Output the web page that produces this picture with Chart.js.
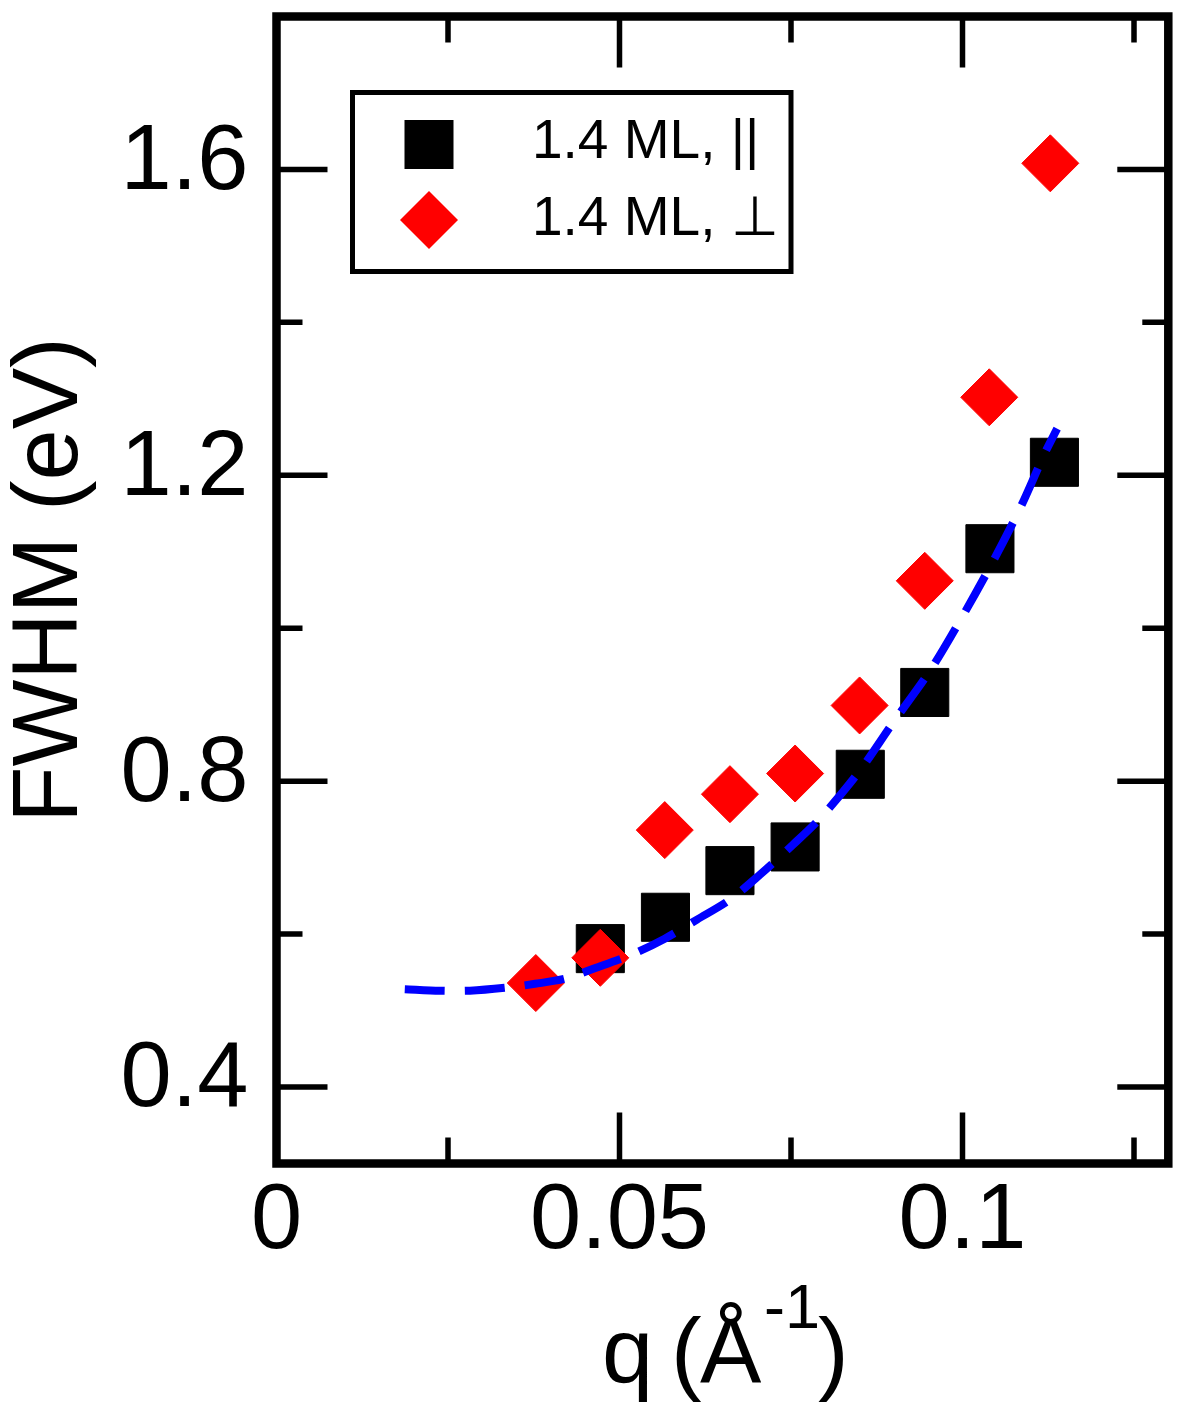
<!DOCTYPE html>
<html>
<head>
<meta charset="utf-8">
<title>FWHM vs q</title>
<script src="https://cdn.jsdelivr.net/npm/chart.js@4.4.1/dist/chart.umd.min.js"></script>
<style>
  body { margin: 0; background: #fff; }
  #myChart { display: block; }
</style>
</head>
<body>
<canvas id="myChart" width="1188" height="1406"></canvas>
<script>
// data
var qPar = [0.0472, 0.0567, 0.0661, 0.0756, 0.0851, 0.0945, 0.1040, 0.1134];
var fwhmPar = [0.581, 0.622, 0.683, 0.714, 0.809, 0.916, 1.104, 1.217];

var qPerp = [0.0378, 0.0472, 0.0566, 0.0661, 0.0756, 0.0850, 0.0945, 0.1039, 0.1128];
var fwhmPerp = [0.536, 0.569, 0.736, 0.783, 0.810, 0.899, 1.062, 1.302, 1.608];

// dashed fit line
var qFit = [0.0187, 0.0238, 0.0282, 0.0335, 0.0377, 0.0422, 0.0472, 0.0515, 0.0566, 0.0613,
            0.0661, 0.0705, 0.0753, 0.0792, 0.0848, 0.0899, 0.0953, 0.0999, 0.1043, 0.1084, 0.1120, 0.1138];
var fwhmFit = [0.528, 0.526, 0.526, 0.530, 0.535, 0.542, 0.558, 0.572, 0.594, 0.619,
               0.645, 0.678, 0.717, 0.751, 0.811, 0.877, 0.945, 1.014, 1.085, 1.157, 1.229, 1.261];

var labelPar = '1.4 ML, ||';
var labelPerp = '1.4 ML, \u22A5';

// ticks
var xTicks = [0, 0.05, 0.1];
var xMinor = [0.025, 0.075, 0.125];
var yTicks = [0.4, 0.8, 1.2, 1.6];
var yMinor = [0.6, 1.0, 1.4];

var FONT = "'Liberation Sans', Arial, Helvetica, sans-serif";

function pts(xs, ys) {
  return xs.map(function (x, i) { return { x: x, y: ys[i] }; });
}

// frame, inward ticks, legend box, axis titles
var framePlugin = {
  id: 'frame',
  afterDraw: function (chart) {
    var ctx = chart.ctx;
    var a = chart.chartArea;
    var xs = chart.scales.x, ys = chart.scales.y;
    ctx.save();
    ctx.strokeStyle = '#000';
    ctx.lineCap = 'butt';

    // ticks on all four sides
    ctx.lineWidth = 5.5;
    function xt(v, len) {
      var p = xs.getPixelForValue(v);
      ctx.beginPath();
      ctx.moveTo(p, a.bottom); ctx.lineTo(p, a.bottom - len);
      ctx.moveTo(p, a.top); ctx.lineTo(p, a.top + len);
      ctx.stroke();
    }
    function yt(v, len) {
      var p = ys.getPixelForValue(v);
      ctx.beginPath();
      ctx.moveTo(a.left, p); ctx.lineTo(a.left + len, p);
      ctx.moveTo(a.right, p); ctx.lineTo(a.right - len, p);
      ctx.stroke();
    }
    xTicks.forEach(function (v) { if (v > xs.min && v < xs.max) xt(v, 51); });
    xMinor.forEach(function (v) { xt(v, 26); });
    yTicks.forEach(function (v) { yt(v, 51); });
    yMinor.forEach(function (v) { yt(v, 26); });

    // frame
    ctx.lineWidth = 8.5;
    ctx.lineJoin = 'miter';
    ctx.strokeRect(a.left, a.top, a.right - a.left, a.bottom - a.top);

    // legend
    ctx.lineWidth = 5;
    ctx.fillStyle = '#fff';
    ctx.fillRect(352.5, 92.5, 438.5, 179);
    ctx.strokeRect(352.5, 92.5, 438.5, 179);
    ctx.fillStyle = '#000';
    ctx.fillRect(429 - 24.5, 144.5 - 24.5, 49, 49);
    ctx.fillStyle = '#ff0000';
    ctx.beginPath();
    ctx.moveTo(429 - 29, 220); ctx.lineTo(429, 220 - 29);
    ctx.lineTo(429 + 29, 220); ctx.lineTo(429, 220 + 29);
    ctx.closePath(); ctx.fill();
    ctx.fillStyle = '#000';
    ctx.font = '55px ' + FONT;
    ctx.textAlign = 'left';
    ctx.textBaseline = 'alphabetic';
    ctx.fillText(labelPar, 532, 158);
    ctx.fillText(labelPerp, 532, 235);

    // y title
    ctx.save();
    ctx.translate(77, 580);
    ctx.rotate(-Math.PI / 2);
    ctx.font = '92px ' + FONT;
    ctx.textAlign = 'center';
    ctx.fillText('FWHM (eV)', 0, 0);
    ctx.restore();

    // x title with superscript
    ctx.font = '92px ' + FONT;
    ctx.fillText('q', 602, 1383);
    ctx.fillText('(', 671, 1383);
    ctx.fillText('\u00C5', 700, 1383);
    ctx.font = '63px ' + FONT;
    ctx.fillText('-1', 764, 1328);
    ctx.font = '92px ' + FONT;
    ctx.fillText(')', 818, 1383);
    ctx.restore();
  }
};

var ctx = document.getElementById('myChart').getContext('2d');
var myChart = new Chart(ctx, {
  type: 'scatter',
  data: {
    datasets: [
      {
        label: 'fit',
        data: pts(qFit, fwhmFit),
        showLine: true,
        borderColor: '#0000ff',
        borderWidth: 8,
        borderDash: [40, 20],
        tension: 0.3,
        pointRadius: 0,
        fill: false,
        order: 0
      },
      {
        label: labelPerp,
        data: pts(qPerp, fwhmPerp),
        pointStyle: 'rectRot',
        pointRadius: 28.5,
        backgroundColor: '#ff0000',
        borderColor: '#ff0000',
        borderWidth: 1,
        order: 1
      },
      {
        label: labelPar,
        data: pts(qPar, fwhmPar),
        pointStyle: 'rect',
        pointRadius: 34,
        backgroundColor: '#000000',
        borderColor: '#000000',
        borderWidth: 1,
        order: 2
      }
    ]
  },
  options: {
    responsive: false,
    animation: false,
    layout: { autoPadding: false, padding: { top: 16.5, right: 19.7, left: 0, bottom: 0 } },
    plugins: {
      legend: { display: false },
      tooltip: { enabled: false },
      title: { display: false }
    },
    scales: {
      x: {
        type: 'linear',
        min: 0,
        max: 0.13,
        grid: { display: false, drawTicks: false },
        border: { display: false },
        afterBuildTicks: function (s) { s.ticks = xTicks.map(function (v) { return { value: v }; }); },
        afterFit: function (s) {
          s.height = 242.5;
          s.paddingLeft = 0; s.paddingRight = 0;
        },
        ticks: {
          padding: 4,
          color: '#000',
          maxRotation: 0,
          autoSkip: false,
          font: { family: FONT, size: 92 },
          callback: function (v) { return String(v); }
        }
      },
      y: {
        type: 'linear',
        min: 0.3,
        max: 1.8,
        grid: { display: false, drawTicks: false },
        border: { display: false },
        afterBuildTicks: function (s) { s.ticks = yTicks.map(function (v) { return { value: v }; }); },
        afterFit: function (s) {
          s.width = 276.5;
          s.paddingTop = 0; s.paddingBottom = 0;
        },
        ticks: {
          padding: 28,
          labelOffset: -6,
          color: '#000',
          autoSkip: false,
          font: { family: FONT, size: 92 },
          callback: function (v) { return v.toFixed(1); }
        }
      }
    }
  },
  plugins: [framePlugin]
});
</script>
</body>
</html>
